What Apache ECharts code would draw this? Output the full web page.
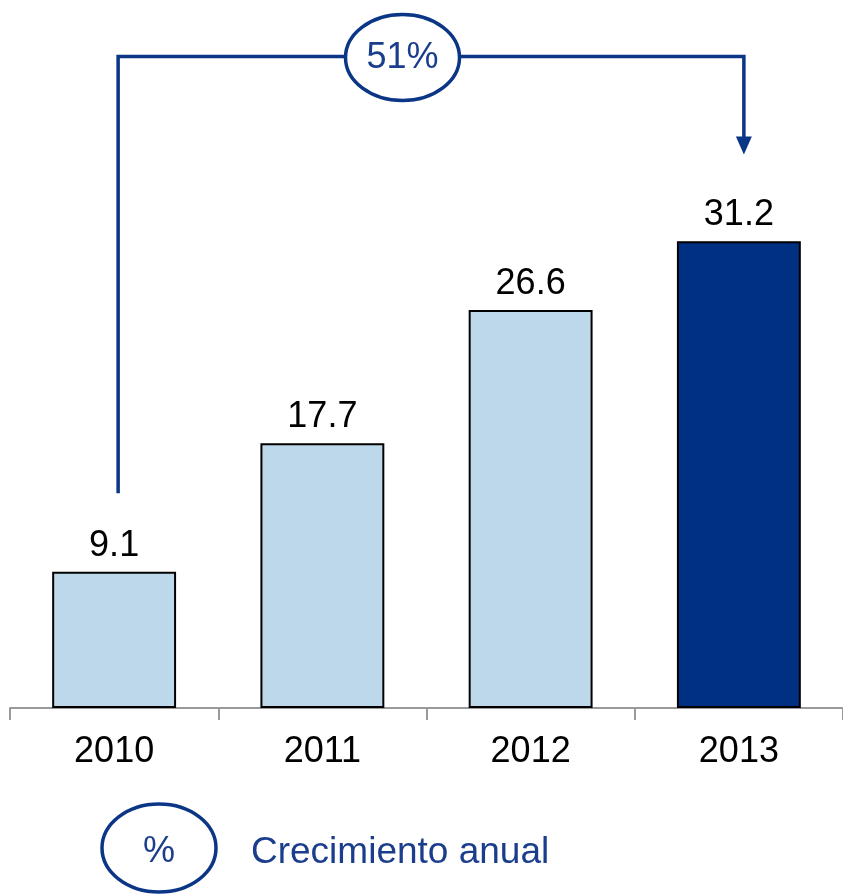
<!DOCTYPE html>
<html>
<head>
<meta charset="utf-8">
<script src="https://cdn.jsdelivr.net/npm/echarts@6/dist/echarts.min.js"></script>
<style>
    html, body { margin: 0; padding: 0; background: #fff; }
    #chart { width: 843px; height: 895px; }
</style>
</head>
<body>
<div id="chart"></div>
<script>
    var years = ['2010', '2011', '2012', '2013'];
    var values = [9.1, 17.7, 26.6, 31.2];
    var growthLabel = '51%';
    var legendText = 'Crecimiento anual';

    var lightBlue = '#BDD8EB';
    var darkBlue = '#003082';
    var lineBlue = '#0B3585';
    var textBlue = '#1A3D8C';
    var font = "'Liberation Sans', Arial, sans-serif";

    var chart = echarts.init(document.getElementById('chart'));

    chart.setOption({
        animation: false,
        grid: { left: 10, right: 0, top: 0, bottom: 187 },
        xAxis: {
            type: 'category',
            data: years,
            axisLine: { lineStyle: { color: '#999', width: 2 } },
            axisTick: { show: true, length: 12, lineStyle: { color: '#999', width: 2 } },
            axisLabel: { margin: 26, fontSize: 36, color: '#000', fontFamily: font }
        },
        yAxis: {
            type: 'value',
            min: 0,
            max: 47.33,
            show: false,
            splitLine: { show: false }
        },
        series: [{
            type: 'bar',
            barWidth: '59.5%',
            data: values.map(function (v, i) {
                return {
                    value: v,
                    itemStyle: { color: i === values.length - 1 ? darkBlue : lightBlue }
                };
            }),
            itemStyle: { borderColor: '#000', borderWidth: 2 },
            label: {
                show: true,
                position: 'top',
                distance: 8,
                fontSize: 36,
                color: '#000',
                fontFamily: font
            }
        }]
    });

    // bracket from 2010 to 2013 with growth bubble, placed through the axes
    function px(cat, val) {
        return chart.convertToPixel({ seriesIndex: 0 }, [cat, val]);
    }
    var start = px(0, 14.35);
    var topL = px(0, 43.55);
    var topR = px(3, 43.55);
    var tip = px(3, 37.0);
    var midX = (px(1, 0)[0] + px(2, 0)[0]) / 2 - 24;
    var leftX = start[0] + 4;
    var rightX = tip[0] + 5;

    chart.setOption({
        graphic: [
            {
                type: 'polyline',
                shape: { points: [[leftX, start[1]], [leftX, topL[1]], [rightX, topR[1]], [rightX, tip[1] - 16]] },
                style: { stroke: lineBlue, lineWidth: 3.5, fill: null }
            },
            {
                type: 'polygon',
                shape: { points: [[rightX - 8, tip[1] - 18], [rightX + 8, tip[1] - 18], [rightX, tip[1]]] },
                style: { fill: lineBlue }
            },
            {
                type: 'ellipse',
                shape: { cx: midX, cy: topL[1] + 1, rx: 57, ry: 43 },
                style: { fill: '#fff', stroke: lineBlue, lineWidth: 3.5 }
            },
            {
                type: 'text',
                x: midX,
                y: topL[1] + 2,
                style: {
                    text: growthLabel, fontSize: 36, fontFamily: font, fill: textBlue,
                    align: 'center', verticalAlign: 'middle'
                }
            },
            {
                type: 'ellipse',
                shape: { cx: 159, cy: 848, rx: 57, ry: 44 },
                style: { fill: '#fff', stroke: lineBlue, lineWidth: 3.5 }
            },
            {
                type: 'text',
                x: 159,
                y: 852,
                style: {
                    text: '%', fontSize: 36, fontFamily: font, fill: textBlue,
                    align: 'center', verticalAlign: 'middle'
                }
            },
            {
                type: 'text',
                x: 251,
                y: 853,
                style: {
                    text: legendText, fontSize: 37, fontFamily: font, fill: textBlue,
                    align: 'left', verticalAlign: 'middle'
                }
            }
        ]
    });
</script>
</body>
</html>
